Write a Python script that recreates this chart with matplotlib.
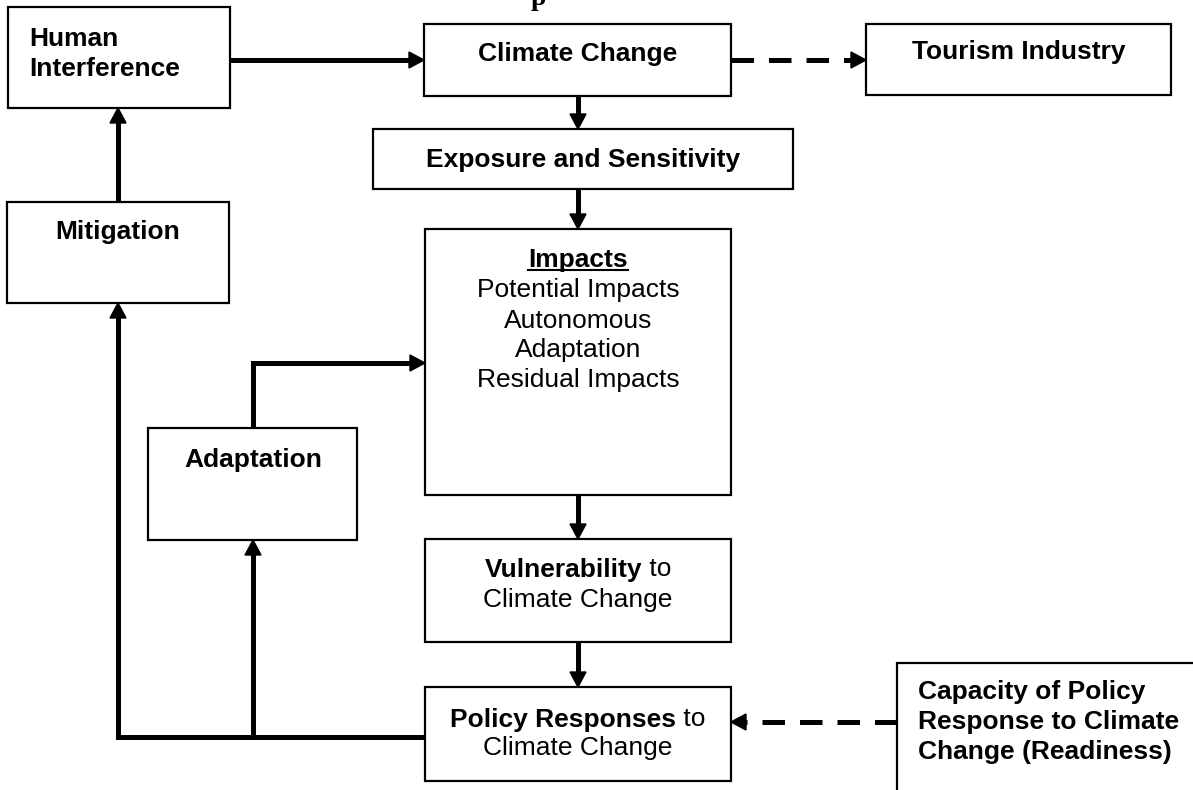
import matplotlib.pyplot as plt
from matplotlib.patches import Rectangle, Polygon

plt.rcParams['font.family'] = ['Liberation Sans', 'DejaVu Sans']

# box labels (bold part, plain part) per line
human_lines = ["Human", "Interference"]
climate_label = "Climate Change"
tourism_label = "Tourism Industry"
exposure_label = "Exposure and Sensitivity"
impacts_title = "Impacts"
impacts_lines = ["Potential Impacts", "Autonomous", "Adaptation", "Residual Impacts"]
mitigation_label = "Mitigation"
adaptation_label = "Adaptation"
vuln_lines = [("Vulnerability", " to"), ("", "Climate Change")]
policy_lines = [("Policy Responses", " to"), ("", "Climate Change")]
capacity_lines = ["Capacity of Policy", "Response to Climate", "Change (Readiness)"]

# layout in pixels: (x0, y0, x1, y1)
boxes = {
    "human": (8, 7, 230, 108),
    "climate": (424, 24, 731, 96),
    "tourism": (866, 24, 1171, 95),
    "exposure": (373, 129, 793, 189),
    "impacts": (425, 229, 731, 495),
    "mitigation": (7, 202, 229, 303),
    "adaptation": (148, 428, 357, 540),
    "vuln": (425, 539, 731, 642),
    "policy": (425, 687, 731, 781),
    "capacity": (897, 663, 1260, 830),
}

FS = 19
fig = plt.figure(figsize=(11.93, 7.90), dpi=100)
ax = fig.add_axes([0, 0, 1, 1])
ax.set_xlim(0, 1193)
ax.set_ylim(790, 0)
ax.axis('off')

for name, (x0, y0, x1, y1) in boxes.items():
    ax.add_patch(Rectangle((x0, y0), x1 - x0, y1 - y0, fill=True, facecolor='white',
                           edgecolor='black', lw=1.6, zorder=2))

LW = 3.6


def arrow(points, dashed=False):
    xs = [p[0] for p in points]
    ys = [p[1] for p in points]
    (xa, ya), (xb, yb) = points[-2], points[-1]
    dx, dy = xb - xa, yb - ya
    n = (dx ** 2 + dy ** 2) ** 0.5
    ux, uy = dx / n, dy / n
    hl, hw = 15, 8
    bx, by = xb - ux * hl, yb - uy * hl
    xs[-1], ys[-1] = bx + ux * 2, by + uy * 2
    ls = (0, (4.5, 3.0)) if dashed else '-'
    ax.plot(xs, ys, color='black', lw=LW, ls=ls, solid_capstyle='butt',
            dash_capstyle='butt', solid_joinstyle='miter', zorder=3)
    ax.add_patch(Polygon([(xb, yb), (bx - uy * hw, by + ux * hw), (bx + uy * hw, by - ux * hw)],
                         closed=True, color='black', zorder=4))


arrow([(230, 60), (424, 60)])
arrow([(731, 60), (866, 60)], dashed=True)
arrow([(578, 96), (578, 129)])
arrow([(578, 189), (578, 229)])
arrow([(578, 495), (578, 539)])
arrow([(578, 642), (578, 687)])
arrow([(118, 202), (118, 108)])
arrow([(425, 737), (118, 737), (118, 303)])
arrow([(253, 737), (253, 540)])
arrow([(253, 428), (253, 363), (425, 363)])
arrow([(897, 722), (731, 722)], dashed=True)

kw = dict(va='center_baseline', fontsize=FS, zorder=5)

for i, s in enumerate(human_lines):
    ax.text(29, 37 + 30 * i, s, ha='left', weight='bold', **kw)
ax.text(578, 51, climate_label, ha='center', weight='bold', **kw)
ax.text(1019, 50, tourism_label, ha='center', weight='bold', **kw)
ax.text(583, 158, exposure_label, ha='center', weight='bold', **kw)
ax.text(118, 229, mitigation_label, ha='center', weight='bold', **kw)
ax.text(253, 457, adaptation_label, ha='center', weight='bold', **kw)

r = fig.canvas.get_renderer()
t = ax.text(578, 257, impacts_title, ha='center', weight='bold', **kw)
bb = t.get_window_extent(r)
ax.plot([bb.x0, bb.x1], [270, 270], color='black', lw=1.5, zorder=5)
for i, s in enumerate(impacts_lines):
    ax.text(578, 288 + 30 * i, s, ha='center', **kw)


def mixed(x, y, bold, plain):
    t1 = ax.text(0, y, bold, ha='left', weight='bold', **kw)
    t2 = ax.text(0, y, plain, ha='left', **kw)
    w1 = t1.get_window_extent(r).width if bold else 0
    w2 = t2.get_window_extent(r).width
    start = x - (w1 + w2) / 2
    t1.set_x(start)
    t2.set_x(start + w1)


for i, (b, p) in enumerate(vuln_lines):
    mixed(578, 567 + 30 * i, b, p)
for i, (b, p) in enumerate(policy_lines):
    mixed(578, 717 + 29 * i, b, p)

for i, s in enumerate(capacity_lines):
    ax.text(918, 690 + 30 * i, s, ha='left', weight='bold', **kw)

# clipped title fragment at the top edge
ax.text(538, 5, "p", ha='center', va='baseline', fontsize=20, weight='bold',
        family='Liberation Serif', zorder=5)

fig.savefig('out.png', dpi=100)
